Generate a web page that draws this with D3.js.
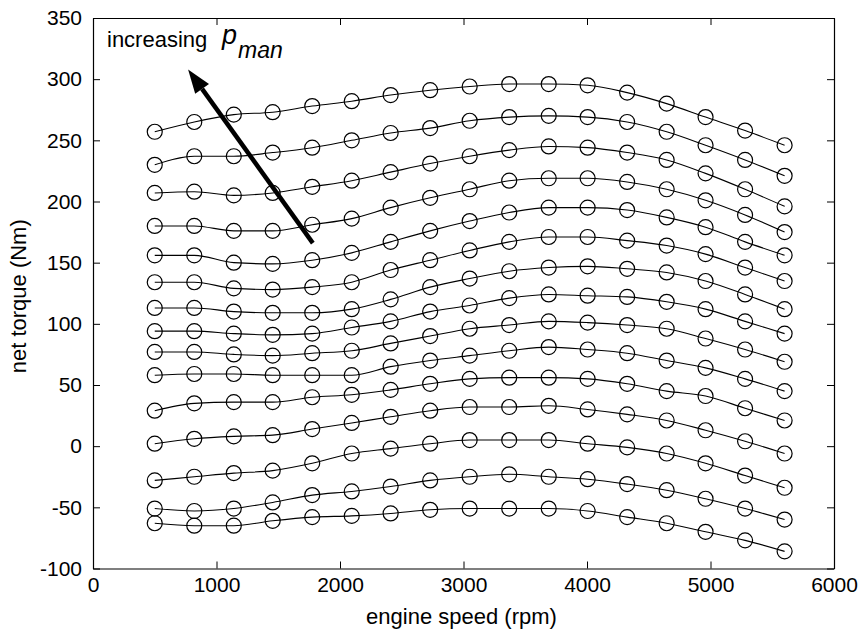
<!DOCTYPE html>
<html>
<head>
<meta charset="utf-8">
<script src="https://cdn.jsdelivr.net/npm/d3@7"></script>
<style>
  html, body { margin: 0; padding: 0; background: #fff; }
  svg { display: block; font-family: "Liberation Sans", Arial, Helvetica, sans-serif; }
</style>
</head>
<body>
<svg id="chart" width="866" height="634"></svg>
<script>
// engine speed (rpm) at which each curve is sampled
const speeds = [500, 820, 1140, 1455, 1775, 2095, 2410, 2730, 3050, 3370, 3690, 4005, 4325, 4645, 4960, 5280, 5600];

// net torque (Nm), one array per manifold pressure level (low to high)
const torqueP01 = [-63, -65, -65, -61, -58, -57, -55, -52, -51, -51, -51, -53, -58, -63, -70, -77, -86];
const torqueP02 = [-51, -53, -51, -46, -40, -37, -33, -28, -25, -23, -25, -27, -31, -36, -43, -51, -60];
const torqueP03 = [-28, -25, -22, -20, -14, -6, -2, 2, 5, 5, 5, 2, -1, -6, -14, -24, -34];
const torqueP04 = [2, 6, 8, 9, 14, 19, 24, 29, 32, 32, 33, 30, 26, 21, 13, 4, -6];
const torqueP05 = [29, 35, 36, 36, 40, 42, 46, 51, 55, 56, 56, 55, 51, 45, 41, 31, 21];
const torqueP06 = [58, 59, 59, 58, 58, 58, 65, 70, 74, 78, 81, 79, 76, 70, 64, 55, 45];
const torqueP07 = [77, 77, 75, 74, 76, 78, 84, 90, 96, 99, 102, 101, 99, 96, 88, 79, 69];
const torqueP08 = [94, 94, 92, 91, 92, 97, 102, 110, 115, 121, 124, 123, 122, 118, 112, 102, 92];
const torqueP09 = [113, 113, 110, 109, 109, 112, 120, 130, 137, 143, 146, 147, 145, 142, 135, 124, 112];
const torqueP10 = [134, 134, 129, 128, 130, 134, 144, 152, 160, 167, 171, 171, 168, 164, 157, 146, 135];
const torqueP11 = [156, 156, 150, 149, 152, 158, 167, 176, 184, 191, 195, 195, 193, 187, 179, 167, 156];
const torqueP12 = [180, 180, 176, 176, 181, 186, 195, 203, 210, 217, 219, 219, 216, 210, 201, 189, 175];
const torqueP13 = [207, 208, 205, 207, 212, 217, 224, 231, 237, 242, 245, 244, 240, 234, 223, 210, 196];
const torqueP14 = [230, 237, 237, 240, 244, 250, 256, 260, 266, 269, 270, 269, 265, 257, 246, 234, 221];
const torqueP15 = [257, 265, 271, 273, 278, 282, 287, 291, 294, 296, 296, 295, 289, 280, 269, 258, 246];

const xTicks = [0, 1000, 2000, 3000, 4000, 5000, 6000];
const yTicks = [-100, -50, 0, 50, 100, 150, 200, 250, 300, 350];

// annotation arrow (data coordinates: rpm, Nm)
const arrowTail = [1780, 166];
const arrowHead = [770, 308];

const allSeries = [torqueP01, torqueP02, torqueP03, torqueP04, torqueP05, torqueP06, torqueP07, torqueP08,
                   torqueP09, torqueP10, torqueP11, torqueP12, torqueP13, torqueP14, torqueP15];

const svg = d3.select("#chart");
const L = 93, R = 834, T = 18, B = 568.5;
const x = d3.scaleLinear().domain([0, 6000]).range([L, R]);
const y = d3.scaleLinear().domain([-100, 350]).range([B, T]);

const fontSize = 21;
const plainFmt = d => String(d);   // hyphen-minus, no thousands separator

function styleAxis(g) {
  g.select(".domain").attr("stroke", "#000").attr("stroke-width", 1.2);
  g.selectAll(".tick line").attr("stroke", "#000").attr("stroke-width", 1);
  g.selectAll(".tick text").attr("fill", "#000").attr("font-size", fontSize)
    .attr("font-family", '"Liberation Sans", Arial, sans-serif');
}
svg.append("g").attr("transform", `translate(0,${B})`)
  .call(d3.axisBottom(x).tickValues(xTicks).tickFormat(plainFmt).tickSizeInner(-7).tickSizeOuter(0).tickPadding(9))
  .call(styleAxis);
svg.append("g").attr("transform", `translate(0,${T})`)
  .call(d3.axisTop(x).tickValues(xTicks).tickSizeInner(-7).tickSizeOuter(0).tickFormat(""))
  .call(styleAxis);
svg.append("g").attr("transform", `translate(${L},0)`)
  .call(d3.axisLeft(y).tickValues(yTicks).tickFormat(plainFmt).tickSizeInner(-7).tickSizeOuter(0).tickPadding(11))
  .call(styleAxis);
svg.append("g").attr("transform", `translate(${R},0)`)
  .call(d3.axisRight(y).tickValues(yTicks).tickSizeInner(-7).tickSizeOuter(0).tickFormat(""))
  .call(styleAxis);

// curves
const line = d3.line()
  .x((d, i) => x(speeds[i]))
  .y(d => y(d))
  .curve(d3.curveMonotoneX);

const gSeries = svg.append("g");
allSeries.forEach(s => {
  gSeries.append("path").attr("d", line(s))
    .attr("fill", "none").attr("stroke", "#000").attr("stroke-width", 1.1);
  gSeries.selectAll(null).data(s).enter().append("circle")
    .attr("cx", (d, i) => x(speeds[i]))
    .attr("cy", d => y(d))
    .attr("r", 7.5)
    .attr("fill", "none").attr("stroke", "#000").attr("stroke-width", 1.2);
});

// arrow annotation
const ax0 = x(arrowTail[0]), ay0 = y(arrowTail[1]);
const ax1 = x(arrowHead[0]), ay1 = y(arrowHead[1]);
const ang = Math.atan2(ay1 - ay0, ax1 - ax0);
const headLen = 24, headHalf = 8.5;
const bx = ax1 - headLen * Math.cos(ang), by = ay1 - headLen * Math.sin(ang);
svg.append("line")
  .attr("x1", ax0).attr("y1", ay0).attr("x2", bx).attr("y2", by)
  .attr("stroke", "#000").attr("stroke-width", 4.5);
svg.append("path")
  .attr("d", `M${ax1},${ay1} L${bx + headHalf * Math.sin(ang)},${by - headHalf * Math.cos(ang)} L${bx - headHalf * Math.sin(ang)},${by + headHalf * Math.cos(ang)} Z`)
  .attr("fill", "#000");

// annotation text: "increasing p_man"
const ann = svg.append("text").attr("x", 107).attr("y", 47).attr("fill", "#000");
ann.append("tspan").attr("font-size", 22).text("increasing ");
ann.append("tspan").attr("x", 222).attr("y", 44).attr("font-size", 27).attr("font-style", "italic").text("p");
ann.append("tspan").attr("x", 238).attr("y", 58).attr("font-size", 23).attr("font-style", "italic").text("man");

// axis labels
svg.append("text").attr("x", (L + R) / 2 - 2).attr("y", 624).attr("text-anchor", "middle")
  .attr("font-size", fontSize + 1).attr("fill", "#000").text("engine speed (rpm)");
svg.append("text").attr("transform", `translate(26,${(T + B) / 2 + 3}) rotate(-90)`).attr("text-anchor", "middle")
  .attr("font-size", fontSize + 1).attr("fill", "#000").text("net torque (Nm)");
</script>
</body>
</html>
